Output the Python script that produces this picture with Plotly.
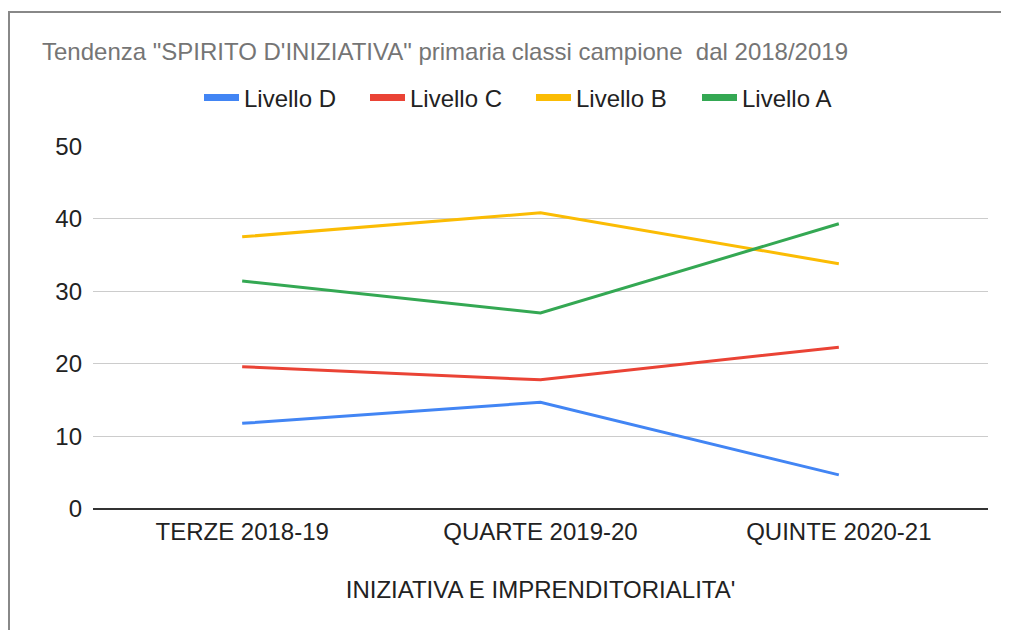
import plotly.graph_objects as go

categories = ["TERZE 2018-19", "QUARTE 2019-20", "QUINTE 2020-21"]
series_names = ["Livello D", "Livello C", "Livello B", "Livello A"]
livello_d = [11.8, 14.7, 4.7]
livello_c = [19.6, 17.8, 22.3]
livello_b = [37.5, 40.8, 33.8]
livello_a = [31.4, 27.0, 39.3]
series_values = [livello_d, livello_c, livello_b, livello_a]
colors = ["#4285F4", "#EA4335", "#FBBC04", "#34A853"]
y_ticks = [0, 10, 20, 30, 40, 50]

FONT = "Liberation Sans, Arial, sans-serif"
W, H = 1001, 622

fig = go.Figure()
for name, vals, col in zip(series_names, series_values, colors):
    fig.add_trace(go.Scatter(x=categories, y=vals, name=name, mode="lines",
                             line=dict(color=col, width=3), showlegend=False))
# legend entries with thick swatches
for name, col in zip(series_names, colors):
    fig.add_trace(go.Scatter(x=[None], y=[None], name=name, mode="lines",
                             line=dict(color=col, width=7), showlegend=True))

fig.update_layout(
    width=W, height=H,
    margin=dict(l=85, r=21, t=136, b=121),
    paper_bgcolor="white", plot_bgcolor="white",
    font=dict(family=FONT, size=24, color="#222222"),
    title=dict(text='Tendenza "SPIRITO D\'INIZIATIVA" primaria classi campione  dal 2018/2019',
               font=dict(family=FONT, size=24, color="#757575"),
               xref="container", x=34/W, xanchor="left",
               yref="container", y=1-44/H, yanchor="middle"),
    legend=dict(orientation="h", xref="container", x=523/W, xanchor="center",
                yref="container", y=1-90/H, yanchor="middle",
                entrywidth=116, itemwidth=35,
                font=dict(family=FONT, size=24, color="#222222"),
                bgcolor="rgba(0,0,0,0)"),
    showlegend=True,
    xaxis=dict(type="category", range=[-0.5, 2.5], showgrid=False, zeroline=False,
               showline=False, ticks="", ticklabelstandoff=6,
               tickfont=dict(size=24, color="#222222"),
               title=dict(text="INIZIATIVA E IMPRENDITORIALITA'", standoff=37,
                          font=dict(size=24, color="#222222"))),
    yaxis=dict(range=[0, 50], tickvals=y_ticks, showgrid=True, gridcolor="#cccccc",
               gridwidth=1, zeroline=True, zerolinecolor="#333333", zerolinewidth=2,
               showline=False, ticks="", ticklabelstandoff=10,
               tickfont=dict(size=24, color="#222222")),
)

# outer frame (top and left edges)
px0, px1, py0, py1 = 85, 980, 136, 501
def xp(px):
    return (px - px0) / (px1 - px0)
def yp(py):
    return (py1 - py) / (py1 - py0)
fig.add_shape(type="line", xref="paper", yref="paper", x0=xp(0), x1=xp(W + 5),
              y0=yp(1), y1=yp(1), line=dict(color="#888888", width=2))
fig.add_shape(type="line", xref="paper", yref="paper", x0=xp(1), x1=xp(1),
              y0=yp(0), y1=yp(H + 5), line=dict(color="#888888", width=2))

fig.write_html("out.html")
